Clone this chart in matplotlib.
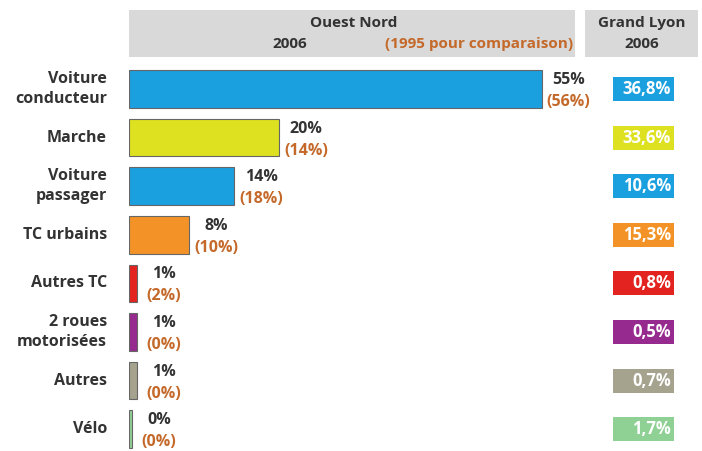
import matplotlib
matplotlib.use("Agg")
import matplotlib.pyplot as plt

categories = ["Voiture\nconducteur", "Marche", "Voiture\npassager", "TC urbains",
              "Autres TC", "2 roues\nmotorisées", "Autres", "Vélo"]
ouest_2006 = [55, 20, 14, 8, 1, 1, 1, 0.4]
ouest_1995 = [56, 14, 18, 10, 2, 0, 0, 0]
grand_lyon = ["36,8%", "33,6%", "10,6%", "15,3%", "0,8%", "0,5%", "0,7%", "1,7%"]
colors = ["#1a9fdf", "#dde120", "#1a9fdf", "#f39327", "#e2231f", "#962a8e", "#a5a28e", "#8fd095"]

plt.rcParams['font.family'] = ['Open Sans', 'DejaVu Sans']
W, H = 702, 451
fig = plt.figure(figsize=(W / 100, H / 100), dpi=100)
fig.patch.set_facecolor("white")

def fax(x0, y0, x1, y1):
    return fig.add_axes([x0 / W, 1 - y1 / H, (x1 - x0) / W, (y1 - y0) / H])

dark = "#333333"
brown = "#c4692a"
hdr = "#d9d9d9"

# header boxes
h1 = fax(129, 10, 575, 57)
h1.set_facecolor(hdr); h1.set_xticks([]); h1.set_yticks([])
for s in h1.spines.values(): s.set_visible(False)
h1.text(0.503, 0.72, "Ouest Nord", ha="center", va="center", fontsize=11, fontweight="bold", color=dark, transform=h1.transAxes)
h1.text(0.36, 0.27, "2006", ha="center", va="center", fontsize=11, fontweight="bold", color=dark, transform=h1.transAxes)
h1.text(0.785, 0.27, "(1995 pour comparaison)", ha="center", va="center", fontsize=11, fontweight="bold", color=brown, transform=h1.transAxes)

h2 = fax(585, 10, 698, 57)
h2.set_facecolor(hdr); h2.set_xticks([]); h2.set_yticks([])
for s in h2.spines.values(): s.set_visible(False)
h2.text(0.5, 0.72, "Grand Lyon", ha="center", va="center", fontsize=11, fontweight="bold", color=dark, transform=h2.transAxes)
h2.text(0.5, 0.27, "2006", ha="center", va="center", fontsize=11, fontweight="bold", color=dark, transform=h2.transAxes)

# main bars
y = list(range(len(categories)))
ax = fax(129, 65, 575, 451)
px_per_pct = 7.5
ax.set_xlim(0, 446 / px_per_pct)
top_idx = (65 - 89) / 48.6
bot_idx = (451 - 89) / 48.6
ax.set_ylim(bot_idx, top_idx)
ax.barh(y, ouest_2006, height=0.77, color=colors, edgecolor="#666666", linewidth=0.8)
ax.axis("off")
for yi, v, c in zip(y, ouest_2006, ouest_1995):
    ax.annotate(f"{round(v)}%", (v, yi), xytext=(27, 9), textcoords="offset pixels",
                ha="center", va="center", fontsize=11.5, fontweight="bold", color=dark)
    ax.annotate(f"({c}%)", (v, yi), xytext=(27, -13), textcoords="offset pixels",
                ha="center", va="center", fontsize=11.5, fontweight="bold", color=brown)
    ax.annotate(categories[yi], (0, yi), xytext=(-22, 0), textcoords="offset pixels",
                ha="right", va="center", fontsize=11.5, fontweight="bold", color=dark,
                multialignment="right", linespacing=1.3, annotation_clip=False)

# Grand Lyon boxes
ax2 = fax(585, 65, 698, 451)
ax2.set_xlim(0, 113)
ax2.set_ylim(bot_idx, top_idx)
ax2.axis("off")
box_left, box_w = 28, 61
ax2.barh(y, [box_w] * len(y), left=box_left, height=0.49, color=colors)
for yi, t in zip(y, grand_lyon):
    ax2.text(box_left + box_w - 3, yi, t, ha="right", va="center", fontsize=12,
             fontweight="bold", color="white")

fig.savefig("out.png", dpi=100)
